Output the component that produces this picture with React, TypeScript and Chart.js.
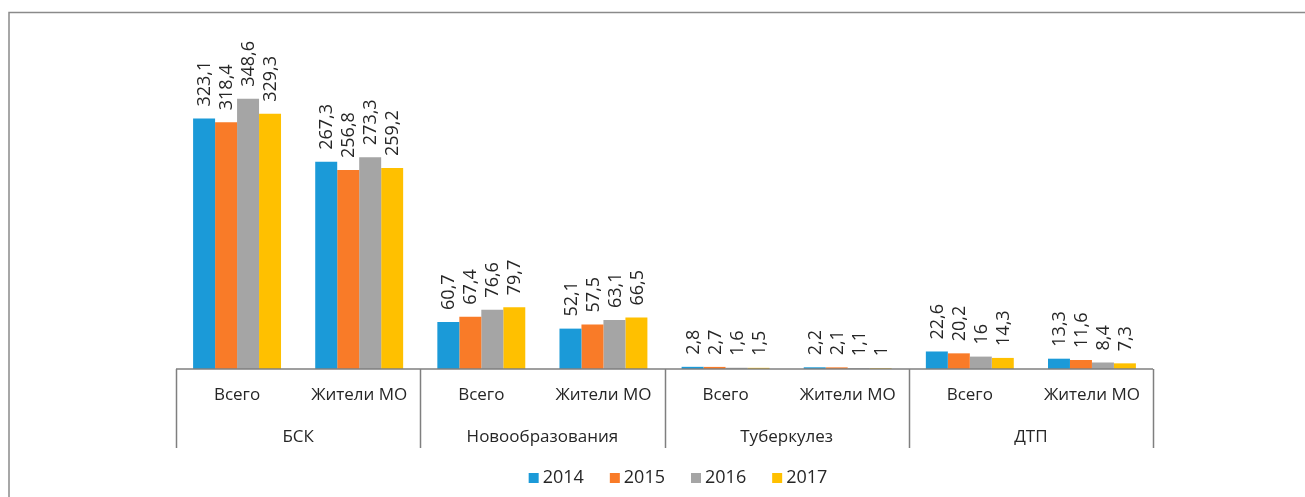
import React, { useEffect, useRef } from "react";
import { Chart, registerables } from "chart.js";

Chart.register(...registerables);

const subCategories = ["Всего", "Жители МО", "Всего", "Жители МО", "Всего", "Жители МО", "Всего", "Жители МО"];
const groups = ["БСК", "Новообразования", "Туберкулез", "ДТП"];
const seriesNames = ["2014", "2015", "2016", "2017"];
const values2014 = [323.1, 267.3, 60.7, 52.1, 2.8, 2.2, 22.6, 13.3];
const values2015 = [318.4, 256.8, 67.4, 57.5, 2.7, 2.1, 20.2, 11.6];
const values2016 = [348.6, 273.3, 76.6, 63.1, 1.6, 1.1, 16, 8.4];
const values2017 = [329.3, 259.2, 79.7, 66.5, 1.5, 1, 14.3, 7.3];
const seriesColors = ["#1b9ad8", "#f97b28", "#a5a5a5", "#ffc000"];

const FONT = "'Open Sans', 'Noto Sans', sans-serif";
const TEXT = "#262626";

const fmt = (v: number) => String(v).replace(".", ",");

const decorPlugin = {
  id: "decor",
  afterDatasetsDraw(chart: any) {
    const ctx = chart.ctx;
    ctx.save();
    ctx.fillStyle = TEXT;
    ctx.font = `18px ${FONT}`;
    ctx.textAlign = "left";
    ctx.textBaseline = "middle";
    chart.data.datasets.forEach((ds: any, di: number) => {
      const meta = chart.getDatasetMeta(di);
      meta.data.forEach((el: any, i: number) => {
        ctx.save();
        ctx.translate(el.x, el.y - 12);
        ctx.rotate(-Math.PI / 2);
        ctx.fillText(fmt(ds.data[i]), 0, 1);
        ctx.restore();
      });
    });
    ctx.restore();
  },
  afterDraw(chart: any) {
    const ctx = chart.ctx;
    const { left, right, bottom } = chart.chartArea;
    const xs = chart.scales.x;
    ctx.save();
    // outer frame
    ctx.strokeStyle = "#8a8a8a";
    ctx.lineWidth = 1.5;
    ctx.beginPath();
    ctx.moveTo(9, chart.height);
    ctx.lineTo(9, 12.5);
    ctx.lineTo(chart.width, 12.5);
    ctx.stroke();
    // axis line
    ctx.strokeStyle = "#7f7f7f";
    ctx.lineWidth = 1.5;
    ctx.beginPath();
    ctx.moveTo(left, bottom);
    ctx.lineTo(right, bottom);
    ctx.stroke();
    // group separators
    const n = subCategories.length;
    for (let g = 0; g <= groups.length; g++) {
      const idx = g * 2;
      let px: number;
      if (idx === 0) px = left;
      else if (idx >= n) px = right;
      else px = (xs.getPixelForValue(idx - 1) + xs.getPixelForValue(idx)) / 2;
      px = Math.round(px) + 0.5;
      ctx.beginPath();
      ctx.moveTo(px, bottom);
      ctx.lineTo(px, bottom + 79);
      ctx.stroke();
    }
    // category labels
    ctx.fillStyle = TEXT;
    ctx.font = `17px ${FONT}`;
    ctx.textAlign = "center";
    ctx.textBaseline = "middle";
    subCategories.forEach((s, i) => ctx.fillText(s, xs.getPixelForValue(i), bottom + 26));
    groups.forEach((g, i) =>
      ctx.fillText(g, (xs.getPixelForValue(2 * i) + xs.getPixelForValue(2 * i + 1)) / 2, bottom + 68)
    );
    // legend
    ctx.font = `18px ${FONT}`;
    ctx.textAlign = "left";
    const box = 10;
    const gapBox = 4;
    const gapItem = 26;
    const widths = seriesNames.map((s) => box + gapBox + ctx.measureText(s).width);
    const total = widths.reduce((a, b) => a + b, 0) + gapItem * (seriesNames.length - 1);
    let x = 678 - total / 2;
    const ly = 478;
    seriesNames.forEach((s, i) => {
      ctx.fillStyle = seriesColors[i];
      ctx.fillRect(x, ly - box / 2, box, box);
      ctx.fillStyle = TEXT;
      ctx.fillText(s, x + box + gapBox, ly);
      x += widths[i] + gapItem;
    });
    ctx.restore();
  },
};

export default function App() {
  const ref = useRef<HTMLCanvasElement | null>(null);
  useEffect(() => {
    document.body.style.margin = "0";
    document.body.style.overflow = "hidden";
    if (!ref.current) return;
    const allSeries = [values2014, values2015, values2016, values2017];
    const chart = new Chart(ref.current, {
      type: "bar",
      data: {
        labels: subCategories,
        datasets: seriesNames.map((name, i) => ({
          label: name,
          data: allSeries[i],
          backgroundColor: seriesColors[i],
          borderWidth: 0,
          barPercentage: 1,
          categoryPercentage: 0.72,
        })),
      },
      options: {
        responsive: false,
        animation: false,
        layout: { padding: { left: 176, right: 152, top: 59, bottom: 128 } },
        plugins: { legend: { display: false }, tooltip: { enabled: false } },
        scales: {
          x: { display: false, grid: { display: false } },
          y: { display: false, min: 0, max: 400, grid: { display: false } },
        },
      },
      plugins: [decorPlugin],
    });
    return () => chart.destroy();
  }, []);
  return <canvas ref={ref} width={1305} height={497} style={{ display: "block" }} />;
}
